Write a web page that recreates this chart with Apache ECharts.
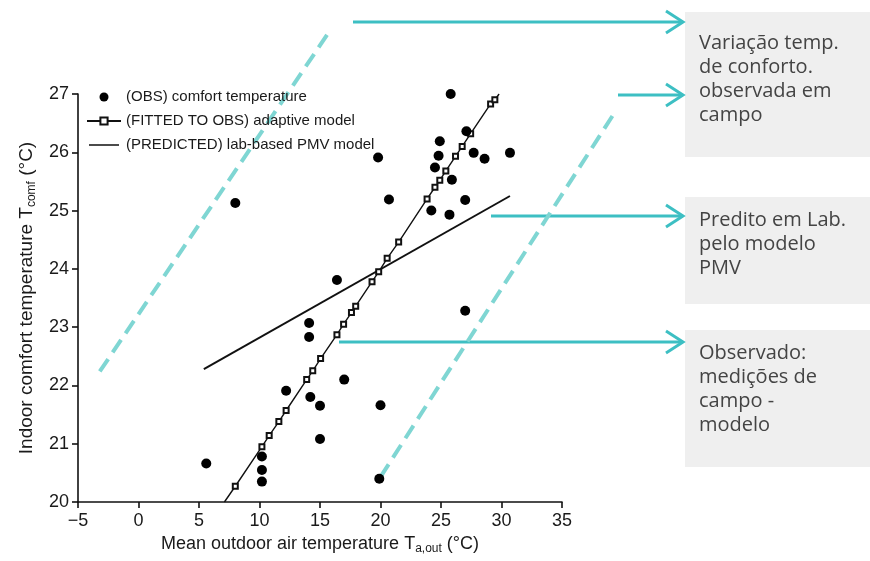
<!DOCTYPE html>
<html>
<head>
<meta charset="utf-8">
<script src="https://cdn.jsdelivr.net/npm/echarts@6/dist/echarts.min.js"></script>
<style>
  html, body { margin: 0; padding: 0; background: #fff; }
  #chart { width: 870px; height: 561px; }
</style>
</head>
<body>
<div id="chart"></div>
<script>
// observed comfort temperatures (OBS)
const obsX = [25.8, 27.1, 24.9, 24.8, 19.8, 27.7, 28.6, 30.7, 24.5, 25.9, 20.7, 27.0, 24.2, 25.7, 8.0,
              16.4, 27.0, 14.1, 14.1, 12.2, 17.0, 14.2, 15.0, 20.0, 15.0, 5.6, 10.2, 10.2, 10.2, 19.9];
const obsY = [27.0, 26.36, 26.19, 25.94, 25.91, 25.99, 25.89, 25.99, 25.74, 25.53, 25.19, 25.18, 25.0, 24.93, 25.13,
              23.81, 23.28, 23.07, 22.83, 21.91, 22.1, 21.8, 21.65, 21.66, 21.08, 20.66, 20.78, 20.55, 20.35, 20.4];

// adaptive model fitted to obs
const fitX = [7.1, 8.0, 10.2, 10.8, 11.6, 12.2, 13.9, 14.4, 15.05, 16.4, 16.95, 17.6, 17.95, 19.3, 19.85,
              20.55, 21.5, 23.85, 24.5, 24.9, 25.4, 26.2, 26.75, 27.45, 29.1, 29.45, 29.8];
const fitY = [20.0, 20.27, 20.95, 21.14, 21.38, 21.57, 22.1, 22.25, 22.46, 22.87, 23.05, 23.25, 23.36, 23.78, 23.95,
              24.18, 24.46, 25.2, 25.4, 25.52, 25.68, 25.93, 26.1, 26.32, 26.83, 26.9, 27.0];

// lab-based PMV model
const pmvX = [5.4, 30.7];
const pmvY = [22.28, 25.25];

// comfort band (dashed cyan), runs past the axes
const bandLeftX = [-3.2, 15.8];
const bandLeftY = [22.24, 28.08];
const bandRightX = [20.0, 39.5];
const bandRightY = [20.43, 26.73];

const xTicks = [-5, 35, 5];   // min, max, step
const yTicks = [20, 27, 1];

const legendNames = ['(OBS) comfort temperature', '(FITTED TO OBS) adaptive model', '(PREDICTED) lab-based PMV model'];

const notes = [
  'Variação temp.\nde conforto.\nobservada em\ncampo',
  'Predito em Lab.\npelo modelo\nPMV',
  'Observado:\nmedições de\ncampo -\nmodelo'
];

const zip = (xs, ys) => xs.map((x, i) => [x, ys[i]]);

const fitData = zip(fitX, fitY).map((p, i, a) =>
  (i === 0 || i === a.length - 1) ? { value: p, symbol: 'none' } : p);

const FONT = '"Liberation Sans", Arial, sans-serif';
const CYAN = '#3dbfc3';
const CYAN_LIGHT = '#7fd6d3';
const LINE_ICON = 'path://M0,3.7L30,3.7L30,5.3L0,5.3Z M0,0L0.01,0L0.01,9L0,9Z';

function arrow(x1, x2, y) {
  return [
    { type: 'line', shape: { x1: x1, y1: y, x2: x2, y2: y }, style: { stroke: CYAN, lineWidth: 3 } },
    { type: 'polyline', shape: { points: [[x2 - 17, y - 11], [x2, y], [x2 - 17, y + 11]] },
      style: { stroke: CYAN, lineWidth: 3, fill: null } }
  ];
}

function noteBox(top, h, textTop, txt) {
  return [
    { type: 'rect', shape: { x: 685, y: top, width: 190, height: h }, style: { fill: '#efefef' } },
    { type: 'text', x: 699, y: textTop,
      style: { text: txt, font: '20px "Open Sans", sans-serif', fill: '#444', lineHeight: 24,
               verticalAlign: 'top' } }
  ];
}

const chart = echarts.init(document.getElementById('chart'));

chart.setOption({
  animation: false,
  backgroundColor: '#fff',
  grid: { left: 78, right: 308, top: 94, bottom: 59 },
  legend: {
    orient: 'vertical',
    left: 81,
    top: 84,
    itemWidth: 34,
    itemHeight: 9,
    itemGap: 8,
    data: [
      { name: legendNames[0] },
      { name: legendNames[1] },
      { name: legendNames[2], icon: LINE_ICON }
    ],
    textStyle: { fontFamily: FONT, fontSize: 15, color: '#1a1a1a', lineHeight: 16 }
  },
  xAxis: {
    type: 'value',
    min: xTicks[0], max: xTicks[1], interval: xTicks[2],
    name: '{a|Mean outdoor air temperature T}{s|a,out}{a| (°C)}',
    nameLocation: 'middle',
    nameGap: 30,
    nameTextStyle: {
      rich: {
        a: { fontFamily: FONT, fontSize: 18, color: '#1a1a1a', lineHeight: 22 },
        s: { fontFamily: FONT, fontSize: 12, color: '#1a1a1a', verticalAlign: 'bottom', lineHeight: 22 }
      }
    },
    splitLine: { show: false },
    axisLine: { onZero: false, lineStyle: { color: '#111', width: 1.6 } },
    axisTick: { length: 6, lineStyle: { color: '#111', width: 1.6 } },
    axisLabel: {
      fontFamily: FONT, fontSize: 18, color: '#1a1a1a', margin: 10,
      formatter: v => (v < 0 ? '\u2212' + Math.abs(v) : String(v))
    }
  },
  yAxis: {
    type: 'value',
    min: yTicks[0], max: yTicks[1], interval: yTicks[2],
    name: '{a|Indoor comfort temperature T}{s|comf}{a| (°C)}',
    nameLocation: 'middle',
    nameRotate: 90,
    nameGap: 38,
    nameTextStyle: {
      rich: {
        a: { fontFamily: FONT, fontSize: 19, color: '#1a1a1a', lineHeight: 23 },
        s: { fontFamily: FONT, fontSize: 12, color: '#1a1a1a', verticalAlign: 'bottom', lineHeight: 23 }
      }
    },
    splitLine: { show: false },
    axisLine: { onZero: false, lineStyle: { color: '#111', width: 1.6 } },
    axisTick: { length: 6, lineStyle: { color: '#111', width: 1.6 } },
    axisLabel: { fontFamily: FONT, fontSize: 18, color: '#1a1a1a', margin: 9 }
  },
  series: [
    {
      name: legendNames[0],
      type: 'scatter',
      data: zip(obsX, obsY),
      symbol: 'circle',
      symbolSize: 10,
      itemStyle: { color: '#000', opacity: 1 },
      z: 5
    },
    {
      name: legendNames[1],
      type: 'line',
      data: fitData,
      symbol: 'emptyRect',
      symbolSize: 5,
      showAllSymbol: true,
      lineStyle: { color: '#111', width: 1.4 },
      itemStyle: { color: '#111', borderColor: '#111', borderWidth: 1 },
      z: 4
    },
    {
      name: legendNames[2],
      type: 'line',
      data: zip(pmvX, pmvY),
      symbol: 'none',
      lineStyle: { color: '#111', width: 2 },
      itemStyle: { color: '#111' },
      z: 4
    }
  ]
});

// band lines go past the axis range, so map them through the chart's own scales
function bandLine(xs, ys) {
  const a = chart.convertToPixel({ gridIndex: 0 }, [xs[0], ys[0]]);
  const b = chart.convertToPixel({ gridIndex: 0 }, [xs[1], ys[1]]);
  return { type: 'line', z: 1, silent: true,
    shape: { x1: a[0], y1: a[1], x2: b[0], y2: b[1] },
    style: { stroke: CYAN_LIGHT, lineWidth: 4, lineDash: [15, 8] } };
}

chart.setOption({
  graphic: [].concat(
    [bandLine(bandLeftX, bandLeftY), bandLine(bandRightX, bandRightY)],
    noteBox(12, 145, 31, notes[0]),
    noteBox(197, 107, 208, notes[1]),
    noteBox(330, 137, 341, notes[2]),
    arrow(353, 683, 22),
    arrow(618, 683, 95),
    arrow(491, 683, 216),
    arrow(339, 683, 342)
  )
});
</script>
</body>
</html>
